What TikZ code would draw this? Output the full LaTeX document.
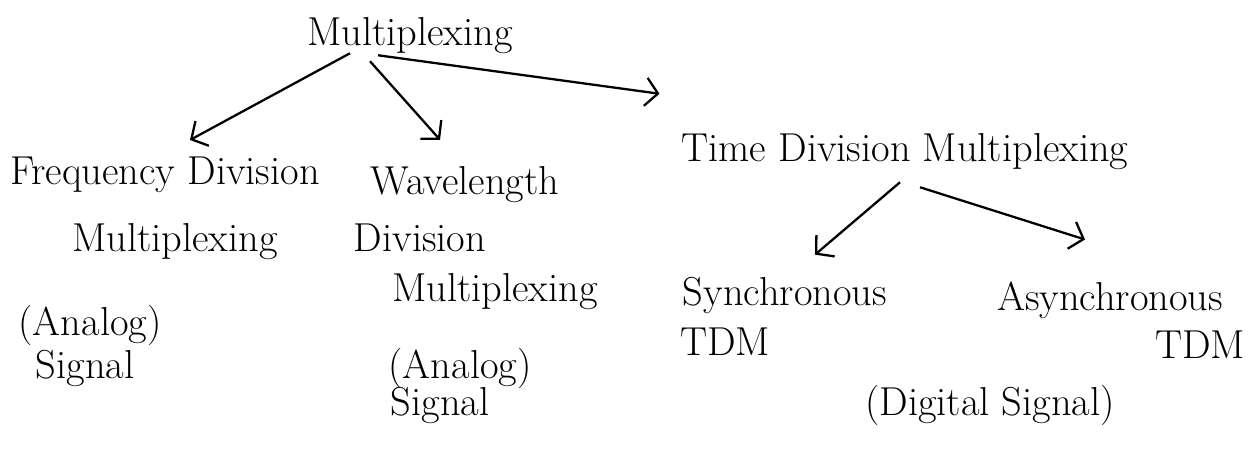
\documentclass[tikz,border=0pt]{standalone}
\usetikzlibrary{arrows.meta}
\usetikzlibrary{calc}
\usepackage{xcolor}

\tikzset{
    lbl/.style={inner sep=1pt, font=\fontsize{23}{27}\selectfont},
    conn/.style={line width=1.3pt, -{Straight Barb[length=7pt,width=16pt]}}
}

\begin{document}
\begin{tikzpicture}[x=0.02cm, y=-0.02cm]
        \useasboundingbox (0,0) rectangle (1250,454);

        \node[lbl] (mux) at (410,36) {Multiplexing};

        \node[lbl] (fdm1) at (165,175) {Frequency Division};
        \node[lbl] (fdm2) at (175,242) {Multiplexing};
        \node[lbl] (fdmA) at (90,325) {(Analog)};
        \node[lbl] (fdmS) at (85,368) {Signal};

        \node[lbl] (wdm1) at (465,185) {Wavelength};
        \node[lbl] (wdm2) at (420,238) {Division};
        \node[lbl] (wdm3) at (495,292) {Multiplexing};
        \node[lbl] (wdmA) at (460,368) {(Analog)};
        \node[lbl] (wdmS) at (440,405) {Signal};

        \node[lbl] (tdm) at (905,152) {Time Division Multiplexing};

        \node[lbl] (sync1) at (785,295) {Synchronous};
        \node[lbl] (sync2) at (725,342) {TDM};
        \node[lbl] (async1) at (1110,300) {Asynchronous};
        \node[lbl] (async2) at (1200,345) {TDM};
        \node[lbl] (dig) at (990,405) {(Digital Signal)};

        \draw[conn] ($(mux.south)+(-60,-3)$) -- ($(fdm1.north)+(25,-15)$);
        \draw[conn] ($(mux.south)+(-40,5)$) -- ($(wdm1.north)+(-25,-25)$);
        \draw[conn] ($(mux.south)+(-32,-1)$) -- ($(tdm.north west)+(-20,-38)$);
        \draw[conn] ($(tdm.south)+(-5,10)$) -- ($(sync1.north)+(30,-20)$);
        \draw[conn] ($(tdm.south)+(15,15)$) -- ($(async1.north)+(-25,-40)$);

    \end{tikzpicture}
\end{document}
